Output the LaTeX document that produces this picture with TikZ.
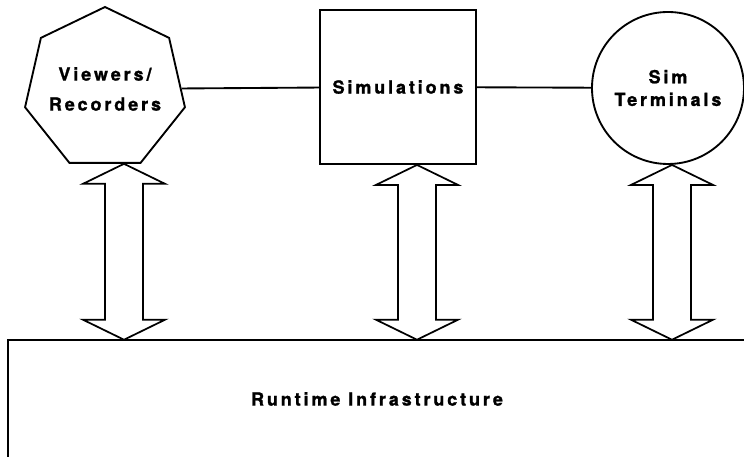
\documentclass[tikz,border=0pt]{standalone}
\usepackage{fontspec}
\setmainfont{TeX Gyre Heros}
\newfontfamily\labelfont[LetterSpace=16, BoldFeatures={FakeBold=1.2}]{TeX Gyre Heros}
\usetikzlibrary{shapes.geometric, calc}

% double headed block arrow between two tips
\newcommand{\twoway}[2]{%
  \draw [bigarrow]
    (#1) -- ($(#1)+(41,-20)$) -- ($(#1)+(19,-20)$)
    -- ($(#2)+(19,20)$) -- ($(#2)+(41,20)$) -- (#2)
    -- ($(#2)+(-41,20)$) -- ($(#2)+(-19,20)$)
    -- ($(#1)+(-19,-20)$) -- ($(#1)+(-41,-20)$) -- cycle;
}

\begin{document}
\begin{tikzpicture}[
  x=0.75pt, y=0.75pt,
  labeltext/.style={
    font=\labelfont\bfseries\fontsize{13.5}{22.5}\selectfont,
    align=center,
    inner sep=0pt
  },
  block/.style={
    % The border:
    draw=black,
    line width=1.4pt,
    % The filling:
    fill=white,
    % Font
    labeltext
  },
  bigarrow/.style={
    draw=black,
    line width=1.3pt,
    fill=white,
    line join=miter
  }
  ]
  \useasboundingbox (0,0) rectangle (744,457);

  % Top row
  \node (viewers) [block, regular polygon, regular polygon sides=7,
    minimum size=123pt] at (105,368) {};
  \node (viewerstext) [labeltext] at (viewers.center) {Viewers/\\Recorders};
  \node (sims) [block, rectangle, minimum width=117pt, minimum height=115.5pt]
    at (398,370) {Simulations};
  \node (terms) [block, circle, minimum size=114pt,
    font=\labelfont\bfseries\fontsize{13.5}{17}\selectfont] at (668,369) {Sim\\Terminals};

  \draw [line width=1.4pt] (viewers) -- (sims);
  \draw [line width=1.4pt] (sims) -- (terms);

  % Runtime infrastructure at the bottom
  \node (rti) [labeltext, minimum width=553.5pt, minimum height=88.5pt]
    at (377,58) {Runtime Infrastructure};
  \draw [line width=1.4pt] (rti.north east) -- (rti.north west) -- (rti.south west);

  % Block arrows to the infrastructure
  \coordinate (vtop) at ($(viewers.south)+(19,0)$);
  \coordinate (vbot) at (vtop |- rti.north);
  \coordinate (stop) at ($(sims.south)+(19,0)$);
  \coordinate (sbot) at (stop |- rti.north);
  \coordinate (ttop) at ($(terms.south)+(4,0)$);
  \coordinate (tbot) at (ttop |- rti.north);

  \twoway{vtop}{vbot}
  \twoway{stop}{sbot}
  \twoway{ttop}{tbot}

\end{tikzpicture}
\end{document}
